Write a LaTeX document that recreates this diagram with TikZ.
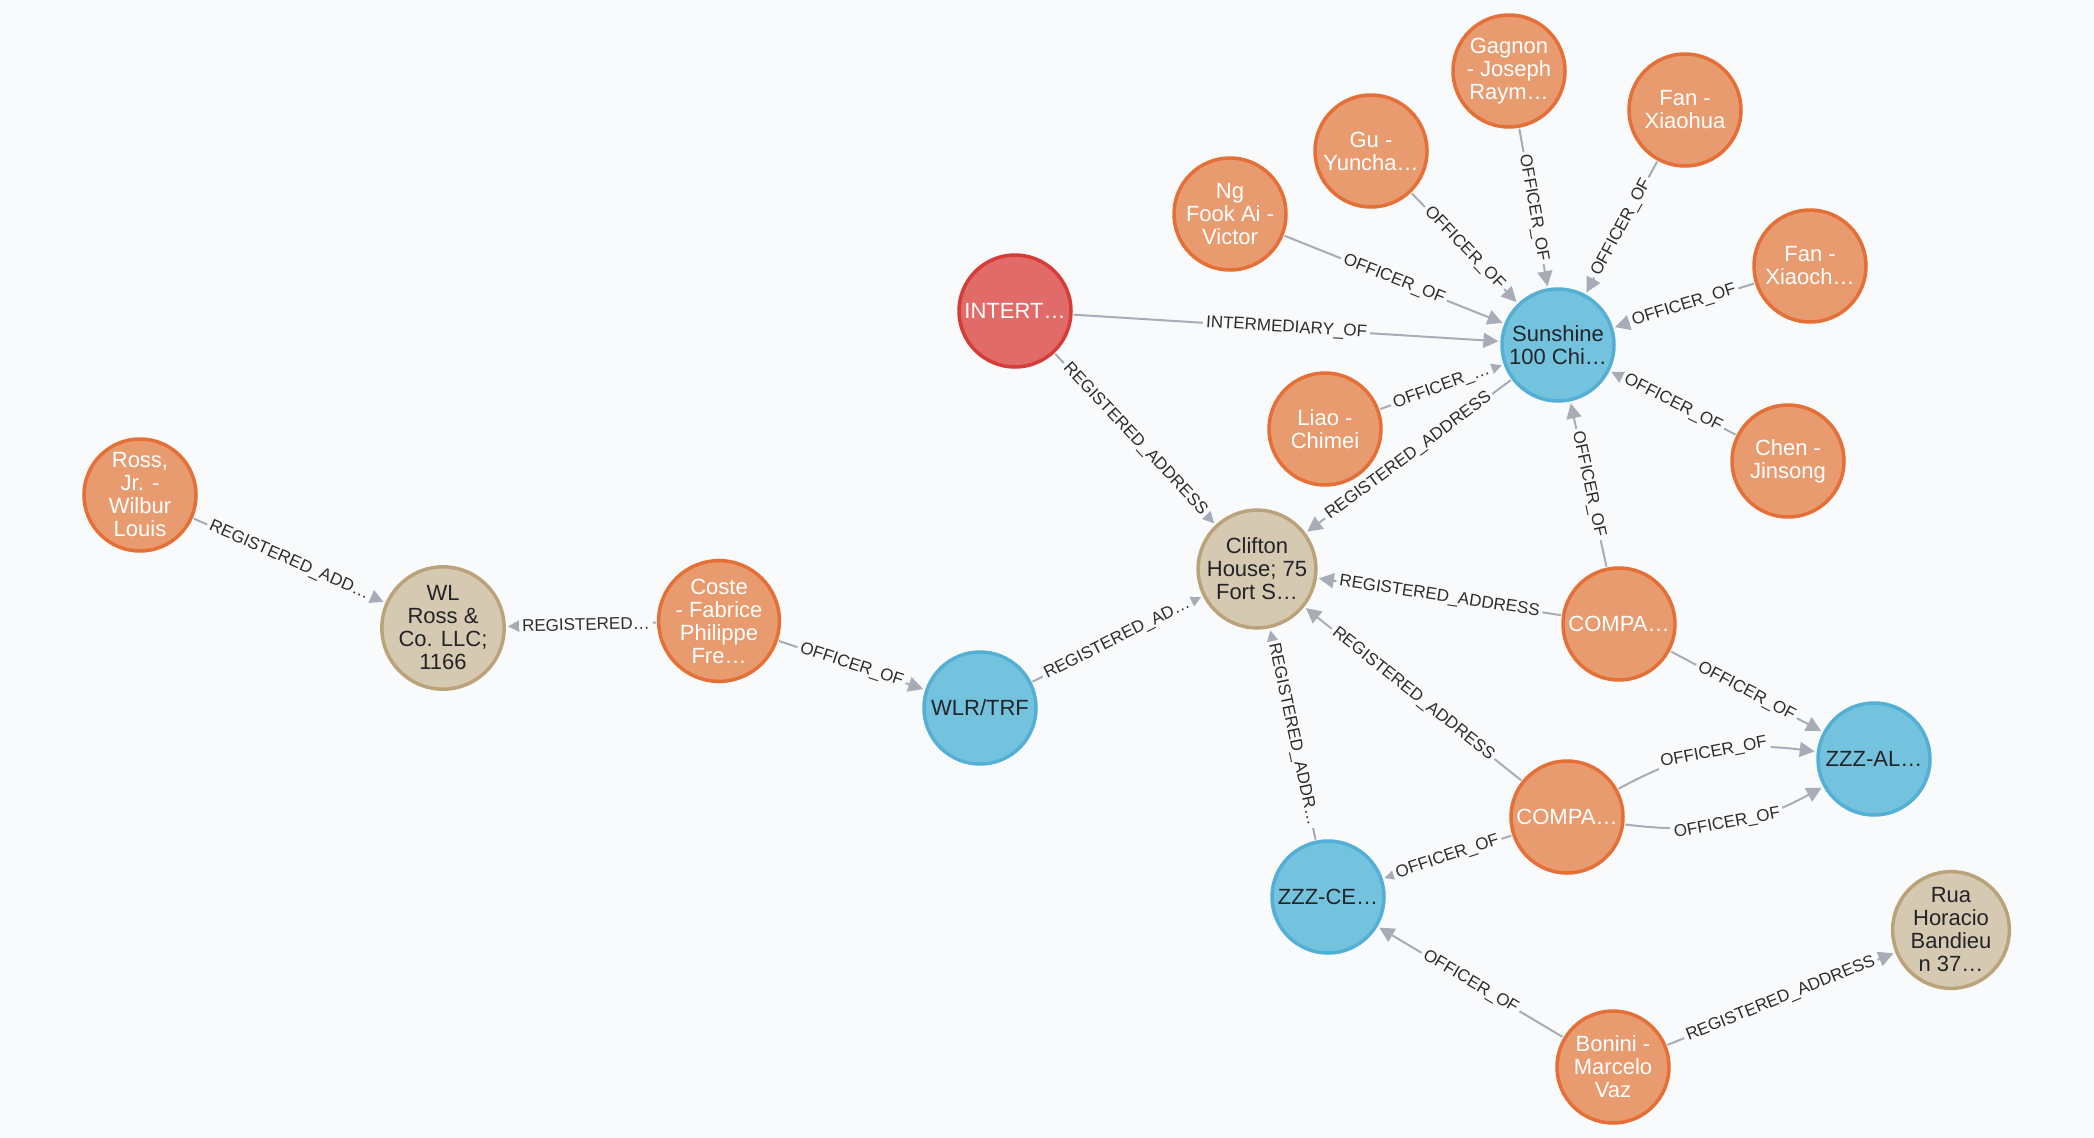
\documentclass[tikz,border=0pt]{standalone}
\usepackage{fontspec}
\setmainfont{Liberation Sans}
\usetikzlibrary{arrows.meta}
\definecolor{bg}{RGB}{249,250,251}
\definecolor{orfill}{RGB}{233,155,112}
\definecolor{ordraw}{RGB}{228,112,55}
\definecolor{blfill}{RGB}{115,195,223}
\definecolor{bldraw}{RGB}{84,175,213}
\definecolor{tnfill}{RGB}{214,201,177}
\definecolor{tndraw}{RGB}{186,162,122}
\definecolor{rdfill}{RGB}{225,107,105}
\definecolor{rddraw}{RGB}{214,60,56}
\definecolor{edgecol}{RGB}{168,172,182}
\definecolor{lbl}{RGB}{45,45,45}
\definecolor{dtext}{RGB}{35,35,40}
\begin{document}
\begin{tikzpicture}[x=1pt,y=-1pt,
  ent/.style={circle, minimum size=112pt, inner sep=0pt, line width=3.5pt, align=center, font=\fontsize{22}{23}\selectfont},
  person/.style={ent, fill=orfill, draw=ordraw, text=white},
  company/.style={ent, fill=blfill, draw=bldraw, text=dtext},
  address/.style={ent, fill=tnfill, draw=tndraw, text=dtext},
  interm/.style={ent, fill=rdfill, draw=rddraw, text=white},
  rel/.style={draw=edgecol, line width=2pt, -{Triangle[length=15pt,width=15pt]}, shorten >=2pt, shorten <=1pt},
  lab/.style={sloped, midway, fill=bg, inner xsep=3pt, inner ysep=5pt, text=lbl, font=\fontsize{17}{18}\selectfont}
]
\fill[bg] (0,0) rectangle (2094,1138);
\useasboundingbox (0,0) rectangle (2094,1138);

\node[person]  (ross)    at (140,495)  {Ross,\\Jr. -\\Wilbur\\Louis};
\node[address] (wlross)  at (443,628)  {WL\\Ross \&\\Co. LLC;\\1166};
\node[person]  (coste)   at (719,621)  {Coste\\- Fabrice\\Philippe\\Fre…};
\node[company] (wlr)     at (980,708)  {WLR/TRF};
\node[interm]  (intert)  at (1015,311) {INTERT…};
\node[address] (clifton) at (1257,569) {Clifton\\House; 75\\Fort S…};
\node[person]  (ng)      at (1230,214) {Ng\\Fook Ai -\\Victor};
\node[person]  (gu)      at (1371,151) {Gu -\\Yuncha…};
\node[person]  (gagnon)  at (1509,71)  {Gagnon\\- Joseph\\Raym…};
\node[person]  (fanxh)   at (1685,110) {Fan -\\Xiaohua};
\node[person]  (fanxc)   at (1810,266) {Fan -\\Xiaoch…};
\node[company] (sun)     at (1558,345) {Sunshine\\100 Chi…};
\node[person]  (liao)    at (1325,429) {Liao -\\Chimei};
\node[person]  (chen)    at (1788,461) {Chen -\\Jinsong};
\node[person]  (compa)   at (1619,624) {COMPA…};
\node[company] (zzzal)   at (1874,759) {ZZZ-AL…};
\node[person]  (compb)   at (1567,817) {COMPA…};
\node[company] (zzzce)   at (1328,897) {ZZZ-CE…};
\node[address] (rua)     at (1951,930) {Rua\\Horacio\\Bandieu\\n 37…};
\node[person]  (bonini)  at (1613,1067) {Bonini -\\Marcelo\\Vaz};

\draw[rel] (ross) -- node[lab] {REGISTERED\_ADD…} (wlross);
\draw[rel] (coste) -- node[lab, pos=0.47] {REGISTERED…} (wlross);
\draw[rel] (coste) -- node[lab] {OFFICER\_OF} (wlr);
\draw[rel] (wlr) -- node[lab] {REGISTERED\_AD…} (clifton);
\draw[rel] (intert) -- node[lab] {REGISTERED\_ADDRESS} (clifton);
\draw[rel] (intert) -- node[lab] {INTERMEDIARY\_OF} (sun);
\draw[rel] (ng) -- node[lab] {OFFICER\_OF} (sun);
\draw[rel] (gu) -- node[lab] {OFFICER\_OF} (sun);
\draw[rel] (gagnon) -- node[lab] {OFFICER\_OF} (sun);
\draw[rel] (fanxh) -- node[lab] {OFFICER\_OF} (sun);
\draw[rel] (fanxc) -- node[lab] {OFFICER\_OF} (sun);
\draw[rel] (chen) -- node[lab] {OFFICER\_OF} (sun);
\draw[rel] (liao) -- node[lab] {OFFICER\_…} (sun);
\draw[rel] (sun) -- node[lab] {REGISTERED\_ADDRESS} (clifton);
\draw[rel] (compa) -- node[lab] {OFFICER\_OF} (sun);
\draw[rel] (compa) -- node[lab] {REGISTERED\_ADDRESS} (clifton);
\draw[rel] (compa) -- node[lab] {OFFICER\_OF} (zzzal);
\draw[rel] (compb) -- node[lab] {REGISTERED\_ADDRESS} (clifton);
\draw[rel] (compb) to[bend left=18] node[lab] {OFFICER\_OF} (zzzal);
\draw[rel] (compb) to[bend right=18] node[lab] {OFFICER\_OF} (zzzal);
\draw[rel] (compb) -- node[lab] {OFFICER\_OF} (zzzce);
\draw[rel] (zzzce) -- node[lab] {REGISTERED\_ADDR…} (clifton);
\draw[rel] (bonini) -- node[lab] {OFFICER\_OF} (zzzce);
\draw[rel] (bonini) -- node[lab] {REGISTERED\_ADDRESS} (rua);
\end{tikzpicture}
\end{document}
